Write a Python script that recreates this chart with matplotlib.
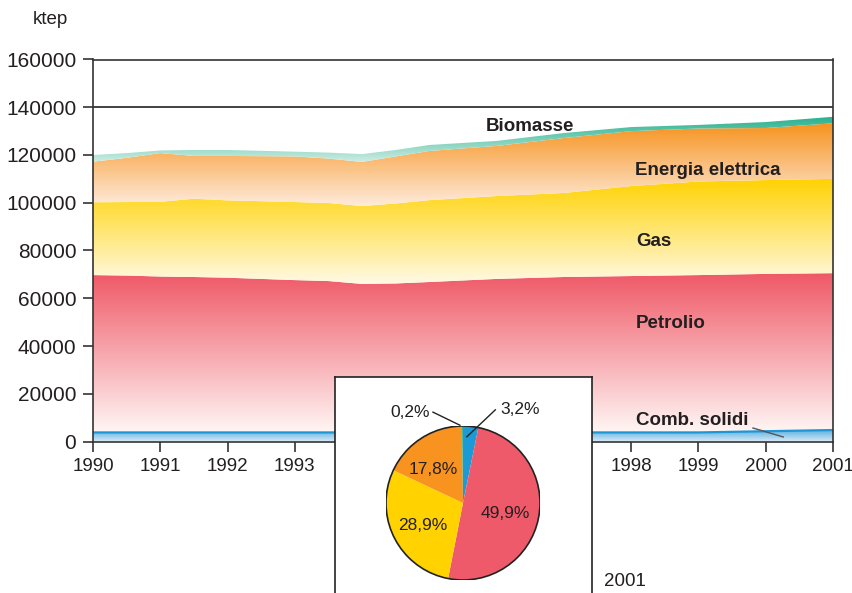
# consumi energetici per fonte 1990-2001, aree cumulate + torta 2001
import numpy as np
import matplotlib
matplotlib.use('Agg')
import matplotlib.pyplot as plt
from matplotlib.patches import Polygon, Circle
from matplotlib.colors import to_rgb

anni = [1990, 1990.5, 1991, 1991.5, 1992, 1993, 1993.5, 1994, 1994.5,
        1995, 1996, 1997, 1998, 1999, 2000, 2001]
solidi = [3800, 3800, 3800, 3800, 3800, 3800, 3800, 3800, 3800,
          3800, 3800, 3800, 3800, 3800, 4300, 4800]
petrolio = [65900, 65700, 65300, 65100, 64800, 63800, 63400, 62200, 62400,
            63000, 64300, 65100, 65500, 65900, 65900, 65700]
gas = [30500, 30800, 31300, 32800, 32400, 32700, 32700, 32600, 33500,
       34300, 34700, 35200, 37700, 39200, 39300, 39500]
elettrica = [17000, 18500, 20400, 17900, 18600, 19100, 18600, 18500, 19700,
             20600, 21000, 23000, 23000, 22200, 21800, 23300]
biomasse = [2800, 2000, 1100, 2500, 2500, 2000, 2500, 3300, 2700,
            2500, 2100, 2100, 1700, 1500, 2500, 2700]

anni_tick = list(range(1990, 2002))
y_tick = [0, 20000, 40000, 60000, 80000, 100000, 120000, 140000, 160000]

torta_val = [3.2, 49.9, 28.9, 17.8, 0.2]
torta_col = ['#1B9AD6', '#EF5A6A', '#FFD200', '#F7931E', '#2DB38F']

sans = ['Liberation Sans', 'DejaVu Sans']


def grad_fill(ax, x, lo, hi, c_top, c_bot):
    verts = np.column_stack([np.r_[x, x[::-1]], np.r_[hi, lo[::-1]]])
    poly = Polygon(verts, closed=True, facecolor='none', edgecolor='none')
    ax.add_patch(poly)
    t = np.linspace(0, 1, 256)[:, None]
    img = (np.array(to_rgb(c_top)) * (1 - t) + np.array(to_rgb(c_bot)) * t)[:, None, :]
    im = ax.imshow(img, extent=[x[0], x[-1], lo.min(), hi.max()], origin='upper',
                   aspect='auto', interpolation='bilinear', zorder=1)
    im.set_clip_path(poly)


fig = plt.figure(figsize=(8.53, 5.93), dpi=100)
ax = fig.add_axes([93/853, 1-441.5/593, 740/853, 382/593])

x = np.array(anni, dtype=float)
strati = [np.array(s, dtype=float) for s in (solidi, petrolio, gas, elettrica, biomasse)]
cum = np.cumsum(strati, axis=0)
colori = [('#5DB1E2', '#DCEBF7'), ('#EF5766', '#FFF6F4'), ('#FFD200', '#FFFAE6'),
          ('#F7931E', '#FEEBDC'), ('#25B08C', '#CDEDE3')]
low = np.zeros_like(x)
for i, (ct, cb) in enumerate(colori):
    grad_fill(ax, x, low, cum[i], ct, cb)
    low = cum[i]
ax.plot(x, cum[0], color='#1E96D6', lw=1.6, zorder=2)

ax.axhline(140000, color='#333333', lw=1.3, zorder=3)
ax.set_xlim(1990, 2001)
ax.set_ylim(0, 160000)
ax.set_xticks(anni_tick)
ax.set_xticklabels([str(a) for a in anni_tick], family=sans, fontsize=13.5, color='#231F20')
ax.set_yticks(y_tick)
ax.set_yticklabels([str(v) for v in y_tick], family=sans, fontsize=15, color='#231F20')
ax.tick_params(direction='out', length=7, width=1.2, color='#333333', pad=5)
for s in ax.spines.values():
    s.set_color('#333333')
    s.set_linewidth(1.2)
    s.set_zorder(3)

etichette = [('Biomasse', 1995.84, 132100), ('Energia elettrica', 1998.06, 113700),
             ('Gas', 1998.07, 83600), ('Petrolio', 1998.07, 49600),
             ('Comb. solidi', 1998.07, 8600)]
for txt, xx, yy in etichette:
    ax.text(xx, yy, txt, family=sans, weight='bold', fontsize=13.5,
            color='#231F20', ha='left', va='center', zorder=4)
ax.plot([1999.81, 2000.26], [5650, 1900], color='#555555', lw=1, zorder=4)

fig.text(33/853, 1-19/593, 'ktep', family=sans, fontsize=13.5, va='center', color='#231F20')

# riquadro con la torta
bax = fig.add_axes([335/853, -0.05, 257/853, 0.3642+0.05])
bax.set_xticks([])
bax.set_yticks([])
bax.set_facecolor('white')
for s in bax.spines.values():
    s.set_color('#222222')
    s.set_linewidth(1.2)

pax = fig.add_axes([386/853, 1-580/593, 154/853, 154/593])
pax.pie(torta_val, colors=torta_col, startangle=90, counterclock=False,
        radius=1, wedgeprops=dict(linewidth=0))
pax.add_patch(Circle((0, 0), 1, fill=False, ec='#222222', lw=1.2))
pax.set_xlim(-1, 1)
pax.set_ylim(-1, 1)
pax.set_aspect('equal')
pax.axis('off')

pos_int = {'49,9%': (0.55, -0.13), '28,9%': (-0.52, -0.29), '17,8%': (-0.39, 0.43)}
for lab, (px, py) in pos_int.items():
    pax.text(px, py, lab, family=sans, fontsize=12.5, ha='center', va='center', color='#231F20')
pax.text(-0.69, 1.17, '0,2%', family=sans, fontsize=12.5, ha='center', va='center', color='#231F20')
pax.plot([-0.39, -0.04], [1.18, 1.01], color='#222222', lw=1, clip_on=False)
pax.text(0.74, 1.21, '3,2%', family=sans, fontsize=12.5, ha='center', va='center', color='#231F20')
pax.plot([0.42, 0.05], [1.21, 0.86], color='#222222', lw=1, clip_on=False)

fig.text(625/853, 1-582/593, '2001', family=sans, fontsize=13.5, ha='center', va='center',
         color='#231F20')

fig.savefig('out.png', dpi=100)
